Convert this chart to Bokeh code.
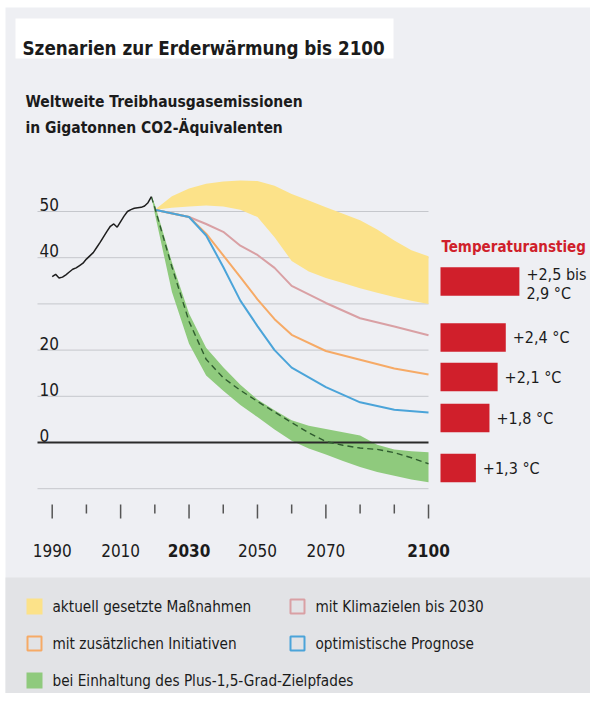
from bokeh.plotting import figure
from bokeh.models import Range1d, BoxAnnotation, ColumnDataSource
from bokeh.core.properties import value
from bokeh.embed import file_html
from bokeh.resources import INLINE

# ---------------- data ----------------
hist_years = list(range(1990, 2020))
hist_values = [35.9, 36.4, 35.6, 35.8, 36.3, 36.9, 37.5, 37.8, 38.3, 38.8,
               39.7, 40.4, 41.1, 42.2, 43.3, 44.5, 45.7, 46.8, 47.3, 46.6,
               47.8, 49.0, 50.0, 50.4, 50.7, 50.8, 50.9, 51.2, 51.9, 53.2]

band_years = [2020, 2025, 2030, 2035, 2040, 2045, 2050, 2055, 2060,
              2065, 2070, 2075, 2080, 2085, 2090, 2095, 2100]
current_upper = [50.4, 53.3, 55.0, 56.0, 56.5, 56.7, 56.6, 55.6, 53.8,
                 52.4, 50.9, 49.5, 48.1, 46.1, 43.7, 41.6, 40.3]
current_lower = [50.4, 50.8, 51.1, 51.3, 51.1, 50.4, 48.8, 44.4, 39.3,
                 37.0, 35.6, 34.5, 33.4, 32.4, 31.5, 30.7, 30.0]

line_years = [2020, 2030, 2035, 2040, 2045, 2050, 2055, 2060, 2070, 2080, 2090, 2100]
targets_2030 = [50.4, 48.8, 47.3, 45.6, 42.6, 40.6, 37.8, 33.9, 30.2, 26.9, 25.1, 23.2]
additional = [50.4, 48.8, 45.2, 40.5, 35.8, 31.0, 26.7, 23.3, 19.8, 17.9, 16.0, 14.7]
optimistic = [50.4, 48.8, 44.8, 38.0, 30.7, 25.2, 20.0, 16.2, 12.0, 8.7, 7.1, 6.5]

path15_years = [2019, 2020, 2025, 2030, 2035, 2040, 2045, 2050, 2055, 2060,
                2065, 2070, 2075, 2080, 2085, 2090, 2095, 2100]
path15_upper = [53.2, 51.5, 39.0, 27.9, 20.5, 16.3, 12.5, 9.3, 7.0, 4.8,
                3.6, 2.9, 2.2, 1.5, -0.5, -1.5, -1.9, -2.1]
path15_lower = [53.2, 49.5, 32.6, 21.4, 14.5, 11.2, 8.1, 5.5, 2.8, 0.4,
                -1.3, -2.6, -4.0, -5.3, -6.4, -7.2, -8.0, -8.6]
path15_mid = [53.2, 50.8, 38.0, 26.2, 18.0, 14.0, 11.3, 8.9, 6.6, 4.3,
              2.1, 0.2, -0.6, -1.2, -1.5, -2.2, -3.3, -4.6]

temp_values = [2.9, 2.4, 2.1, 1.8, 1.3]
temp_labels = [["+2,5  bis", "2,9 °C"], ["+2,4 °C"], ["+2,1 °C"], ["+1,8 °C"], ["+1,3 °C"]]

grid_values = [50, 40, 30, 20, 10, -10]
ytick_labels = [50, 40, 20, 10, 0]
xtick_years = [1990, 2000, 2010, 2020, 2030, 2040, 2050, 2060, 2070, 2080, 2090, 2100]
xlabel_years = [1990, 2010, 2030, 2050, 2070, 2100]
bold_years = [2030, 2100]

legend_labels = ["aktuell gesetzte Maßnahmen", "mit Klimazielen bis 2030",
                 "mit zusätzlichen Initiativen", "optimistische Prognose",
                 "bei Einhaltung des Plus-1,5-Grad-Zielpfades"]

# ---------------- styles / layout ----------------
FONT = value("DejaVu Sans Condensed")
TXT = "#1b1b1b"
BG = "#eeeff3"
LEG_BG = "#e2e3e6"
YELLOW = "#fce289"
GREEN = "#8fca7d"
PINK = "#d9a0a4"
ORANGE = "#f6aa66"
BLUE = "#4ba4d9"
DASH = "#2f5c2f"
RED = "#d01f2b"

W, H = 590, 693
X_1990, PX_YEAR = 51.7, 3.421
Y_0, PX_UNIT = 442.0, 4.62


def xd(px):
    return 1990 + (px - X_1990) / PX_YEAR


def yd(py):
    return (Y_0 - py) / PX_UNIT


p = figure(width=W, height=H, x_range=Range1d(xd(0), xd(W)), y_range=Range1d(yd(H), yd(0)),
           output_backend="svg", toolbar_location=None, min_border=0,
           x_axis_location=None, y_axis_location=None, outline_line_color=None,
           background_fill_color="white", border_fill_color="white")
p.grid.visible = False

# panel and legend band
p.add_layout(BoxAnnotation(left=xd(5), top=yd(7), fill_color=BG, fill_alpha=1,
                           line_color=None, level="underlay"))
p.add_layout(BoxAnnotation(left=xd(5), top=yd(577), bottom=yd(700), fill_color=LEG_BG,
                           fill_alpha=1, line_color=None, level="underlay"))

# title box + texts
p.quad(left=[xd(15)], right=[xd(393)], top=[yd(18)], bottom=[yd(58)],
       fill_color="white", line_color=None)
p.text(x=[xd(22)], y=[yd(48)], text=["Szenarien zur Erderwärmung bis 2100"],
       text_font=FONT, text_font_size="18.7px", text_font_style="bold",
       text_color=TXT, text_baseline="alphabetic")
p.text(x=[xd(25), xd(25)], y=[yd(101), yd(127)],
       text=["Weltweite Treibhausgasemissionen", "in Gigatonnen CO2-Äquivalenten"],
       text_font=FONT, text_font_size="15.5px", text_font_style="bold",
       text_color=TXT, text_baseline="alphabetic")

# gridlines
gx0 = xd(37)
p.segment(x0=[gx0] * len(grid_values), x1=[2100] * len(grid_values),
          y0=grid_values, y1=grid_values, line_color="#c5c7cc", line_width=1)
p.text(x=[xd(39)] * len(ytick_labels), y=ytick_labels, text=[str(v) for v in ytick_labels],
       text_font=FONT, text_font_size="17px", text_color=TXT,
       text_baseline="alphabetic", y_offset=-7)

# bands
p.varea(x=band_years, y1=current_lower, y2=current_upper, fill_color=YELLOW)
p.varea(x=path15_years, y1=path15_lower, y2=path15_upper, fill_color=GREEN)

# zero line
p.segment(x0=[gx0], x1=[2100], y0=[0], y1=[0], line_color="#2a2a2a", line_width=1.8)

# scenario lines
p.line(line_years, targets_2030, line_color=PINK, line_width=2)
p.line(line_years, additional, line_color=ORANGE, line_width=2)
p.line(line_years, optimistic, line_color=BLUE, line_width=2)
p.line(path15_years, path15_mid, line_color=DASH, line_width=1.4, line_dash="6 4")
p.line(hist_years, hist_values, line_color="#1e1e1e", line_width=1.5)

# x ticks
major = [y for y in xtick_years if y in xlabel_years]
minor = [y for y in xtick_years if y not in xlabel_years]
p.segment(x0=major, x1=major, y0=[yd(504)] * len(major), y1=[yd(518)] * len(major),
          line_color="#555555", line_width=1.5)
p.segment(x0=minor, x1=minor, y0=[yd(504)] * len(minor), y1=[yd(513)] * len(minor),
          line_color="#555555", line_width=1.5)
normal = [y for y in xlabel_years if y not in bold_years]
p.text(x=normal, y=[yd(550)] * len(normal), text=[str(y) for y in normal],
       text_font=FONT, text_font_size="17px", text_color=TXT,
       text_align="center", text_baseline="alphabetic")
p.text(x=bold_years, y=[yd(550)] * len(bold_years), text=[str(y) for y in bold_years],
       text_font=FONT, text_font_size="17px", text_font_style="bold", text_color=TXT,
       text_align="center", text_baseline="alphabetic")

# temperature bars
T_LEFT, PX_DEG = 440, 27.2
p.extra_x_ranges = {"temp": Range1d(-T_LEFT / PX_DEG, (W - T_LEFT) / PX_DEG)}
bar_centers_px = [281, 337, 376.5, 417.5, 467.5]
bar_y = [yd(c) for c in bar_centers_px]
p.hbar(y=bar_y, left=0, right=temp_values, height=28.5 / PX_UNIT,
       fill_color=RED, line_color=None, x_range_name="temp")
lx, ly, lt, ldy = [], [], [], []
for v, by, lines in zip(temp_values, bar_y, temp_labels):
    n = len(lines)
    for i, t in enumerate(lines):
        lx.append(v)
        ly.append(by)
        lt.append(t)
        ldy.append((i - (n - 1) / 2) * 19 + (2 if n > 1 else 0))
src = ColumnDataSource(dict(x=lx, y=ly, text=lt, dy=ldy))
p.text(x="x", y="y", text="text", y_offset="dy", source=src, x_range_name="temp",
       x_offset=7, text_font=FONT, text_font_size="16px", text_color=TXT,
       text_baseline="middle")
p.text(x=[0], y=[yd(246)], text=["Temperaturanstieg"], x_range_name="temp",
       x_offset=1, text_font=FONT, text_font_size="15px", text_font_style="bold",
       text_color=RED, text_baseline="alphabetic")

# legend
leg_x_px = [34, 297, 34, 297, 34]
leg_y_px = [606, 606, 643, 643, 680]
leg_fill = [YELLOW, None, None, None, GREEN]
leg_line = [None, PINK, ORANGE, BLUE, None]
for lab, cx, cy, fc, lc in zip(legend_labels, leg_x_px, leg_y_px, leg_fill, leg_line):
    if fc:
        p.scatter(x=[xd(cx)], y=[yd(cy)], marker="square", size=16,
                  fill_color=fc, line_color=None)
    else:
        p.scatter(x=[xd(cx)], y=[yd(cy)], marker="square", size=14,
                  fill_color=None, line_color=lc, line_width=2)
    p.text(x=[xd(cx + 18)], y=[yd(cy)], text=[lab], text_font=FONT,
           text_font_size="15.2px", text_color=TXT, text_baseline="middle")

open("out.html", "w").write(file_html(p, INLINE))
